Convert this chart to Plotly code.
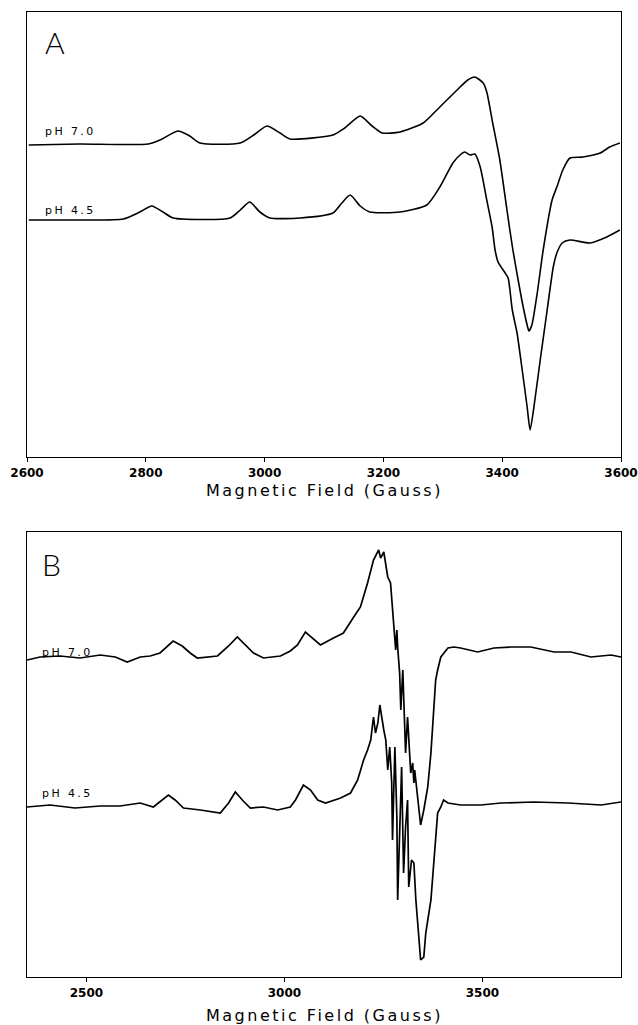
import plotly.graph_objects as go

# ---------------- Panel A data (field in Gauss, signal in arbitrary units incl. offset) -------------
a_field_ph70 = [2603, 2689, 2804, 2824, 2854, 2874, 2891, 2959, 2984, 3004, 3026, 3043, 3115, 3135,
                3161, 3181, 3198, 3228, 3267, 3295, 3324, 3342, 3354, 3368, 3374, 3384, 3396, 3408,
                3418, 3433, 3442, 3445, 3450, 3459, 3469, 3484, 3492, 3502, 3514, 3536, 3565, 3581, 3598]
a_signal_ph70 = [312, 313, 313, 317, 326, 321, 314, 314, 323, 331, 324, 318, 322, 329,
                 341, 331, 324, 325, 334, 350, 367, 377, 380, 374, 365, 334, 297, 247,
                 207, 157, 132, 126, 132, 164, 207, 257, 270, 287, 299, 300, 304, 310, 314]

a_field_ph45 = [2603, 2689, 2762, 2790, 2810, 2829, 2846, 2942, 2959, 2975, 2992, 3009, 3060, 3115,
                3130, 3144, 3161, 3177, 3228, 3273, 3295, 3317, 3329, 3337, 3346, 3354, 3363, 3374,
                3383, 3388, 3393, 3405, 3410, 3417, 3425, 3433, 3442, 3447, 3455, 3464, 3475, 3486,
                3492, 3501, 3514, 3548, 3576, 3598]
a_signal_ph45 = [237, 237, 238, 245, 251, 245, 239, 239, 247, 255, 245, 239, 239, 244,
                 254, 262, 251, 245, 245, 252, 270, 294, 302, 305, 302, 303, 290, 257,
                 230, 207, 195, 184, 179, 147, 124, 90, 50, 27, 57, 97, 144, 190,
                 204, 214, 217, 214, 220, 227]

# ---------------- Panel B data -------------
b_field_ph70 = [2350, 2383, 2433, 2484, 2535, 2573, 2603, 2636, 2661, 2686, 2719, 2742, 2762, 2780,
                2831, 2859, 2881, 2902, 2922, 2947, 2990, 3015, 3033, 3053, 3071, 3091, 3124, 3149,
                3175, 3192, 3210, 3225, 3238, 3243, 3251, 3261, 3268, 3276, 3281, 3284, 3286, 3291,
                3294, 3299, 3301, 3306, 3311, 3314, 3319, 3324, 3327, 3329, 3337, 3344, 3352, 3362,
                3370, 3377, 3382, 3387, 3395, 3413, 3428, 3445, 3488, 3529, 3572, 3622, 3681, 3724,
                3774, 3825, 3850]
b_signal_ph70 = [317, 320, 321, 319, 322, 320, 315, 320, 321, 324, 336, 331, 324, 319,
                 321, 331, 340, 332, 324, 319, 321, 326, 332, 345, 339, 332, 339, 344,
                 360, 370, 394, 417, 427, 419, 425, 400, 394, 350, 327, 347, 330, 304,
                 267, 307, 284, 224, 260, 240, 204, 214, 194, 207, 174, 152, 167, 190,
                 224, 270, 297, 307, 320, 329, 330, 329, 325, 329, 330, 330, 325, 325,
                 320, 322, 320]

b_field_ph45 = [2350, 2408, 2471, 2535, 2585, 2636, 2669, 2686, 2707, 2724, 2745, 2788, 2821, 2838,
                2859, 2876, 2896, 2914, 2947, 2983, 3015, 3028, 3048, 3066, 3084, 3104, 3142, 3167,
                3185, 3192, 3200, 3210, 3218, 3225, 3230, 3236, 3241, 3251, 3256, 3261, 3266, 3271,
                3273, 3279, 3284, 3286, 3291, 3296, 3301, 3306, 3311, 3314, 3321, 3327, 3332, 3339,
                3344, 3352, 3357, 3370, 3377, 3387, 3395, 3402, 3413, 3445, 3496, 3547, 3630, 3716,
                3800, 3850]
b_signal_ph45 = [170, 172, 169, 171, 171, 174, 170, 175, 182, 177, 169, 167, 165, 164,
                 174, 185, 176, 169, 170, 167, 170, 177, 192, 187, 177, 174, 179, 184,
                 197, 207, 217, 227, 237, 260, 244, 254, 272, 247, 237, 207, 230, 194,
                 137, 230, 160, 77, 137, 210, 104, 150, 177, 90, 117, 114, 77, 44,
                 17, 20, 44, 77, 110, 164, 170, 177, 174, 172, 172, 174, 175, 174,
                 172, 175]

a_ticks = [2600, 2800, 3000, 3200, 3400, 3600]
b_ticks = [2500, 3000, 3500]
trace_labels = ["pH 7.0", "pH 4.5"]
axis_title = "Magnetic Field (Gauss)"

W, H = 638, 1025
FONT = "DejaVu Sans"


def px_x(p):
    return p / W


def px_y(p):
    return (H - p) / H


def spaced(text, px):
    return f'<span style="letter-spacing:{px}px">{text}</span>'


fig = go.Figure()
line_a = dict(color="black", width=1.6, shape="spline", smoothing=0.6)
line_b = dict(color="black", width=1.7)
fig.add_trace(go.Scatter(x=a_field_ph70, y=a_signal_ph70, mode="lines", line=line_a, xaxis="x", yaxis="y", name=trace_labels[0]))
fig.add_trace(go.Scatter(x=a_field_ph45, y=a_signal_ph45, mode="lines", line=line_a, xaxis="x", yaxis="y", name=trace_labels[1]))
fig.add_trace(go.Scatter(x=b_field_ph70, y=b_signal_ph70, mode="lines", line=line_b, xaxis="x2", yaxis="y2", name=trace_labels[0]))
fig.add_trace(go.Scatter(x=b_field_ph45, y=b_signal_ph45, mode="lines", line=line_b, xaxis="x2", yaxis="y2", name=trace_labels[1]))

xdom = [px_x(27), px_x(621)]
ydom_a = [px_y(457), px_y(12)]
ydom_b = [px_y(977), px_y(532)]

common_x = dict(showline=True, linecolor="black", linewidth=1.3, mirror=True, showgrid=False,
                zeroline=False, ticks="outside", ticklen=4, tickcolor="black", automargin=False,
                ticklabeloverflow="allow",
                tickfont=dict(family=FONT, size=12, color="black", weight="bold"))
common_y = dict(showline=True, linecolor="black", linewidth=1.3, mirror=True, showgrid=False,
                zeroline=False, showticklabels=False, ticks="", automargin=False)

fig.update_layout(
    template="none",
    width=W, height=H, margin=dict(l=0, r=0, t=0, b=0, pad=0, autoexpand=False),
    paper_bgcolor="white", plot_bgcolor="white", showlegend=False,
    xaxis=dict(domain=xdom, range=[2600, 3600], tickvals=a_ticks, anchor="y", **common_x),
    yaxis=dict(domain=ydom_a, range=[0, 445], anchor="x", **common_y),
    xaxis2=dict(domain=xdom, range=[2350, 3850], tickvals=b_ticks, anchor="y2", **common_x),
    yaxis2=dict(domain=ydom_b, range=[0, 445], anchor="x2", **common_y),
)

lab_font = dict(family=FONT, size=11, color="black")
title_font = dict(family=FONT, size=16, color="black")
annos = [
    dict(x=2627, y=326, xref="x", yref="y", text=spaced(trace_labels[0], 2.4), xanchor="left", yanchor="middle", showarrow=False, font=lab_font),
    dict(x=2627, y=247, xref="x", yref="y", text=spaced(trace_labels[1], 2.4), xanchor="left", yanchor="middle", showarrow=False, font=lab_font),
    dict(x=2383, y=325, xref="x2", yref="y2", text=spaced(trace_labels[0], 2.4), xanchor="left", yanchor="middle", showarrow=False, font=lab_font),
    dict(x=2383, y=184, xref="x2", yref="y2", text=spaced(trace_labels[1], 2.4), xanchor="left", yanchor="middle", showarrow=False, font=lab_font),
    dict(x=2627, y=415, xref="x", yref="y", text="A", xanchor="left", yanchor="middle", showarrow=False,
         font=dict(family="Lato", size=30, color="black", weight=300)),
    dict(x=2383, y=413, xref="x2", yref="y2", text="B", xanchor="left", yanchor="middle", showarrow=False,
         font=dict(family="Lato", size=30, color="black", weight=300)),
    dict(x=px_x(324), y=px_y(490), xref="paper", yref="paper", text=spaced(axis_title, 2.5),
         xanchor="center", yanchor="middle", showarrow=False, font=title_font),
    dict(x=px_x(324), y=px_y(1015), xref="paper", yref="paper", text=spaced(axis_title, 2.5),
         xanchor="center", yanchor="middle", showarrow=False, font=title_font),
]
fig.update_layout(annotations=annos)

# remove the default page margin so the figure fills the 638x1025 window exactly
page_fix = ("document.documentElement.style.overflow='hidden';"
            "document.body.style.margin='0';document.body.style.overflow='hidden';")
fig.write_html("out.html", post_script=page_fix, config={"displayModeBar": False, "staticPlot": True})
